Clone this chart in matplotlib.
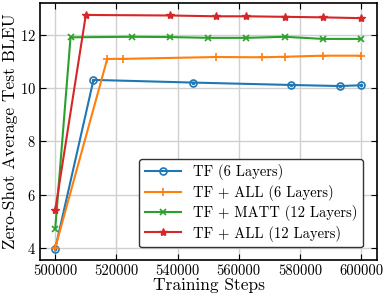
import matplotlib
matplotlib.use("Agg")
import matplotlib.pyplot as plt

plt.rcParams['font.family'] = ['cmr10', 'DejaVu Serif']
plt.rcParams['mathtext.fontset'] = 'cm'
plt.rcParams['axes.formatter.use_mathtext'] = True

labels = ['TF (6 Layers)', 'TF + ALL (6 Layers)', 'TF + MATT (12 Layers)', 'TF + ALL (12 Layers)']

steps_tf6 = [500000, 512500, 545000, 577000, 593000, 600000]
bleu_tf6 = [3.97, 10.31, 10.21, 10.12, 10.08, 10.11]

steps_all6 = [500000, 517000, 522000, 552500, 567500, 575000, 587500, 600000]
bleu_all6 = [4.0, 11.1, 11.1, 11.17, 11.16, 11.18, 11.22, 11.22]

steps_matt12 = [500000, 505000, 525000, 537500, 550000, 562500, 575000, 587500, 600000]
bleu_matt12 = [4.72, 11.91, 11.93, 11.92, 11.89, 11.89, 11.93, 11.85, 11.85]

steps_all12 = [500000, 510000, 537500, 552500, 562500, 575000, 587500, 600000]
bleu_all12 = [5.42, 12.75, 12.73, 12.70, 12.70, 12.68, 12.66, 12.63]

fig = plt.figure(figsize=(3.84, 2.98), dpi=100)
ax = fig.add_axes([0.104, 0.128, 0.878, 0.862])

ax.plot(steps_tf6, bleu_tf6, color='#1f77b4', marker='o', ms=5, mfc='none', mew=1.2, lw=1.5, label=labels[0])
ax.plot(steps_tf6, bleu_tf6, color='#1f77b4', marker='.', ms=3, lw=0, label='_nolegend_')
ax.plot(steps_all6, bleu_all6, color='#ff7f0e', marker='+', ms=6, mew=1.2, lw=1.5, label=labels[1])
ax.plot(steps_matt12, bleu_matt12, color='#2ca02c', marker='x', ms=5, mew=1.2, lw=1.5, label=labels[2])
ax.plot(steps_all12, bleu_all12, color='#d62728', marker='*', ms=6, lw=1.5, label=labels[3])

ax.set_xlim(495000, 605200)
ax.set_ylim(3.55, 13.2)
ax.set_xticks([500000, 520000, 540000, 560000, 580000, 600000])
ax.set_xticklabels(['500000', '520000', '540000', '560000', '580000', '600000'])
ax.set_yticks([4, 6, 8, 10, 12])
ax.grid(True, color='#d0d0d0', lw=1)
ax.set_axisbelow(True)
ax.tick_params(direction='in', labelsize=10.5, length=4, top=True, right=True, pad=3)
ax.set_xlabel('Training Steps', fontsize=12.5, labelpad=0)
ax.set_ylabel('Zero-Shot Average Test BLEU', fontsize=12.5, labelpad=1)
for s in ax.spines.values():
    s.set_linewidth(1.2)

leg = ax.legend(loc='lower right', fontsize=10.5, frameon=True, fancybox=True,
                edgecolor='#333333', framealpha=1, handlelength=2.5,
                bbox_to_anchor=(0.98, 0.02), borderpad=0.4, labelspacing=0.3,
                handletextpad=0.8)
leg.get_frame().set_linewidth(1.0)

fig.savefig('out.png', dpi=100)
